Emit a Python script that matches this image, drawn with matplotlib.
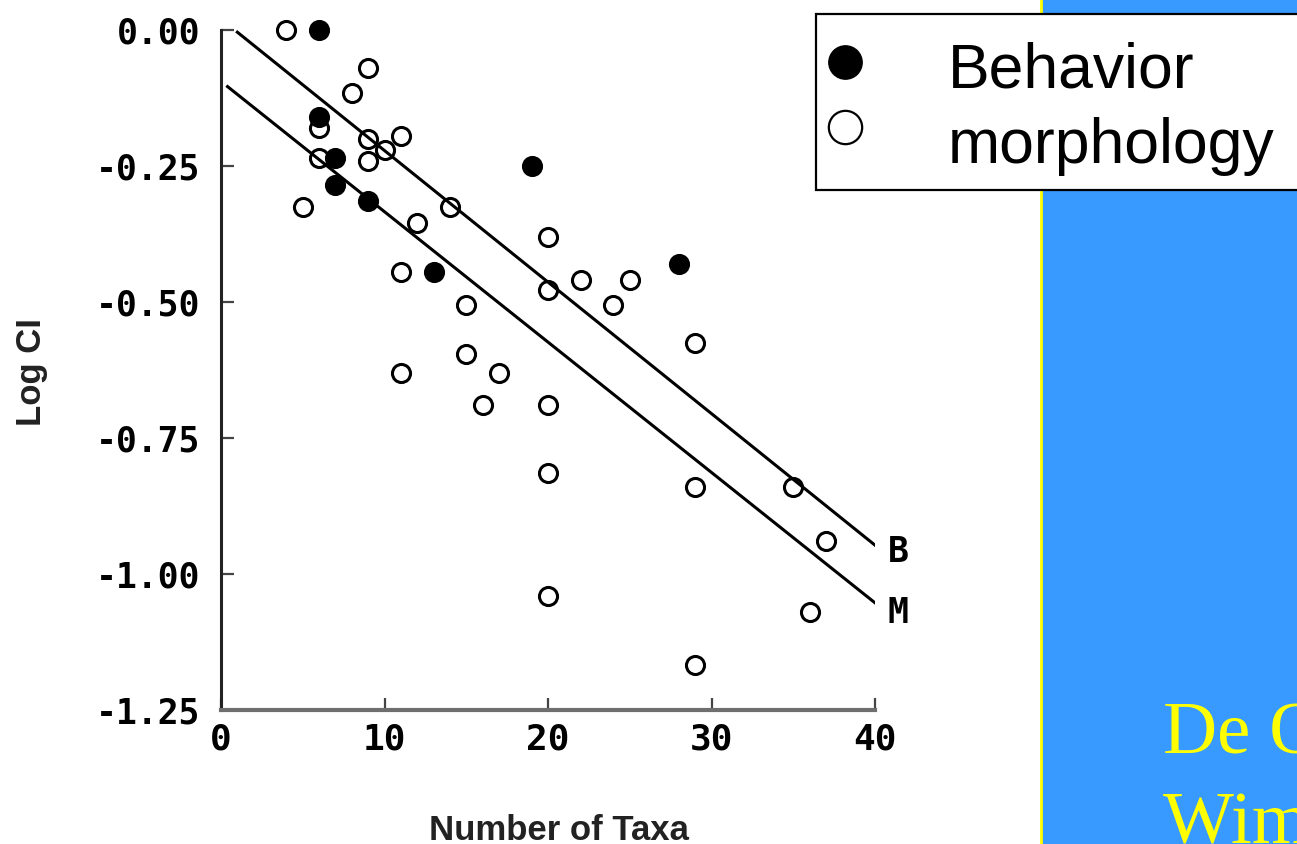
import matplotlib
matplotlib.use('Agg')
import matplotlib.pyplot as plt
from matplotlib.patches import Rectangle

# values (Log CI vs number of taxa)
behavior_taxa = [6, 6, 7, 7, 9, 13, 19, 28]
behavior_ci = [0.00, -0.16, -0.235, -0.285, -0.315, -0.445, -0.25, -0.43]

morph_taxa = [4, 9, 8, 6, 6, 9, 9, 10, 11, 5, 12, 14, 11, 15, 15, 11,
              16, 17, 20, 20, 20, 20, 20, 22, 24, 25, 29, 29, 29, 35, 37, 36]
morph_ci = [0.00, -0.07, -0.115, -0.18, -0.235, -0.20, -0.24, -0.22, -0.195,
            -0.325, -0.355, -0.325, -0.445, -0.505, -0.595, -0.63, -0.69,
            -0.63, -0.38, -0.478, -0.69, -0.815, -1.04, -0.46, -0.505, -0.46,
            -0.575, -0.84, -1.167, -0.84, -0.94, -1.07]

# regression lines (end points)
fit_b_x = [1, 40]
fit_b_y = [-0.004, -0.947]
fit_m_x = [0.4, 40]
fit_m_y = [-0.104, -1.053]

xticks = [0, 10, 20, 30, 40]
yticks = [0.00, -0.25, -0.50, -0.75, -1.00, -1.25]
ytick_labels = ['0.00', '-0.25', '-0.50', '-0.75', '-1.00', '-1.25']

legend_labels = ['Behavior', 'morphology']
credit_lines = ['De Queiroz &', 'Wimberger (1993)']

W, H = 1297, 844
MONO = 'DejaVu Sans Mono'

fig = plt.figure(figsize=(W / 100, H / 100), dpi=100)
ax = fig.add_axes([221 / W, 1 - 710 / H, (875 - 221) / W, (710 - 30) / H])

ax.plot(morph_taxa, morph_ci, ls='none', marker='o', ms=13, mfc='white',
        mec='black', mew=2.2, clip_on=False, zorder=2)
ax.plot(behavior_taxa, behavior_ci, ls='none', marker='o', ms=13, mfc='black',
        mec='black', mew=2.2, clip_on=False, zorder=2.5)
ax.plot(fit_b_x, fit_b_y, color='black', lw=2.2, zorder=3)
ax.plot(fit_m_x, fit_m_y, color='black', lw=2.2, zorder=3)
ax.text(41.4, fit_b_y[1] - 0.012, 'B', fontsize=25, family=MONO, weight='bold',
        ha='center', va='center', clip_on=False)
ax.text(41.4, fit_m_y[1] - 0.018, 'M', fontsize=25, family=MONO, weight='bold',
        ha='center', va='center', clip_on=False)

ax.set_xlim(0, 40)
ax.set_ylim(-1.25, 0)
ax.set_xticks(xticks)
ax.set_xticklabels([str(t) for t in xticks], family=MONO, weight='bold', fontsize=26)
ax.set_yticks(yticks)
ax.set_yticklabels(ytick_labels, family=MONO, weight='bold', fontsize=25)
ax.tick_params(direction='in', length=9, width=1.6, color='#444444')
ax.tick_params(axis='y', pad=15)
ax.tick_params(axis='x', pad=9)
for side in ['top', 'right']:
    ax.spines[side].set_visible(False)
ax.spines['left'].set_linewidth(2.2)
ax.spines['left'].set_color('#222222')
ax.spines['bottom'].set_linewidth(3)
ax.spines['bottom'].set_color('#6e6e6e')

fig.text(32 / W, 1 - 372 / H, 'Log CI', rotation=90, family='Liberation Sans',
         weight='bold', fontsize=25, color='#222222', ha='center', va='center')
fig.text(559 / W, 1 - 830 / H, 'Number of Taxa', family='Liberation Sans',
         weight='bold', fontsize=25, color='#222222', ha='center', va='center')

# slide decorations drawn in pixel coordinates
over = fig.add_axes([0, 0, 1, 1], zorder=5)
over.set_xlim(0, W)
over.set_ylim(H, 0)
over.axis('off')
over.add_patch(Rectangle((1042, -5), 300, H + 10, facecolor='#3899ff',
                         edgecolor='none'))
over.plot([1041, 1041], [0, H], color='#ffff00', lw=2)
over.add_patch(Rectangle((816, 14), 520, 176, facecolor='white',
                         edgecolor='black', lw=1.6, zorder=3))
over.plot([845], [62], ls='none', marker='o', ms=24, mfc='black', mec='black',
          zorder=4)
over.plot([845], [127], ls='none', marker='o', ms=24, mfc='white', mec='black',
          mew=1.6, zorder=4)
over.text(948, 87, legend_labels[0], family='Liberation Sans', fontsize=45,
          va='baseline', zorder=4)
over.text(948, 163, legend_labels[1], family='Liberation Sans', fontsize=45,
          va='baseline', zorder=4)
over.text(1163, 753, credit_lines[0], family='Liberation Serif', fontsize=54,
          color='#ffff00', va='baseline', zorder=4)
over.text(1163, 843, credit_lines[1], family='Liberation Serif', fontsize=54,
          color='#ffff00', va='baseline', zorder=4)

fig.savefig('out.png', dpi=100)
